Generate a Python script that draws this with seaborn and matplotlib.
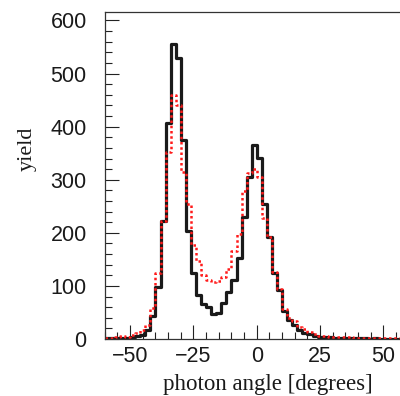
import numpy as np
import pandas as pd
import seaborn as sns
import matplotlib
matplotlib.use("Agg")
import matplotlib.pyplot as plt
from matplotlib.ticker import MultipleLocator

# =======================
# Data (2 degree bins, -60 .. 60)
# =======================
bin_edges = list(range(-60, 61, 2))
bin_centers = [e + 1 for e in bin_edges[:-1]]

yield_solid = [
    1, 1, 1, 1, 2, 3, 5, 8, 17, 43,
    97, 222, 406, 556, 529, 374, 204, 124, 83, 65,
    60, 47, 48, 68, 89, 111, 153, 230, 306, 366,
    341, 254, 193, 124, 92, 52, 36, 26, 17, 12,
    9, 6, 4, 4, 3, 2, 2, 1, 1, 1,
    1, 1, 0, 1, 0, 0, 0, 0, 0, 0,
]

yield_dotted = [
    2, 2, 3, 6, 4, 8, 11, 17, 27, 58,
    125, 222, 353, 460, 440, 314, 254, 177, 146, 120,
    111, 108, 109, 117, 132, 165, 197, 278, 313, 320,
    305, 228, 192, 126, 94, 56, 40, 33, 23, 18,
    14, 9, 6, 5, 4, 4, 3, 3, 3, 2,
    2, 2, 2, 2, 1, 1, 1, 1, 1, 1,
]

df = pd.DataFrame({"angle": bin_centers, "solid": yield_solid, "dotted": yield_dotted})

# =======================
# Style
# =======================
sns.set_style("ticks")
plt.rcParams["font.family"] = ["Liberation Sans", "DejaVu Sans"]

fig = plt.figure(figsize=(4.0, 3.96), dpi=100)
ax = fig.add_axes([0.262, 0.144, 0.76, 0.8257])

sns.histplot(data=df, x="angle", weights="solid", bins=bin_edges,
             element="step", fill=False, color="#1a1a1a", linewidth=2.3, ax=ax)
sns.histplot(data=df, x="angle", weights="dotted", bins=bin_edges,
             element="step", fill=False, color="#ff1a1a", linewidth=1.8,
             linestyle=(0, (1, 1.1)), ax=ax)

ax.set_xlim(-60, 60)
ax.set_ylim(0, 616)
ax.set_xticks([-50, -25, 0, 25, 50])
ax.set_xticklabels(["\u221250", "\u221225", "0", "25", "50"])
ax.set_yticks([0, 100, 200, 300, 400, 500, 600])
ax.xaxis.set_minor_locator(MultipleLocator(5))
ax.yaxis.set_minor_locator(MultipleLocator(20))

ax.tick_params(which="both", direction="in", color="#222222", width=0.8,
               labelsize=15.5, labelcolor="#1a1a1a", top=False, right=False)
ax.tick_params(which="major", length=10)
ax.tick_params(which="minor", length=5)
ax.tick_params(axis="y", pad=13)
ax.tick_params(axis="x", pad=5)

for side in ["left", "bottom", "top", "right"]:
    ax.spines[side].set_color("#333333")
    ax.spines[side].set_linewidth(0.9)

ax.set_xlabel("photon angle [degrees]", family=["Liberation Serif", "DejaVu Serif"],
              fontsize=16.5, color="#1a1a1a", ha="right", va="center")
ax.xaxis.set_label_coords(0.881, -0.138)
ax.set_ylabel("yield", family=["Liberation Serif", "DejaVu Serif"],
              fontsize=16, color="#1a1a1a", va="center")
ax.yaxis.set_label_coords(-0.255, 0.581)

fig.savefig("out.png", dpi=100)
